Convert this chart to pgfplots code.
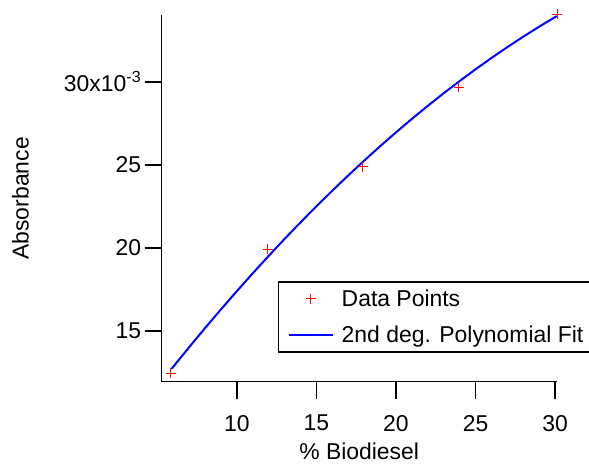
\documentclass[border=0pt]{standalone}
\usepackage{pgfplots}
\pgfplotsset{compat=1.18}
\usepackage{fontspec}
\setmainfont{Liberation Sans}
\definecolor{igred}{RGB}{255,0,0}
\definecolor{igblue}{RGB}{0,0,255}
\newcommand{\igfont}{\fontsize{23}{27}\selectfont}
\begin{document}
\begin{tikzpicture}
\path[use as bounding box] (-161.7bp,-82.3bp) rectangle (427.3bp,381.7bp);
\begin{axis}[
  at={(0,0)}, anchor=south west,
  scale only axis, width=395bp, height=366.7bp,
  xmin=5.28, xmax=30.1, ymin=11.94, ymax=34.03,
  axis x line*=bottom, axis y line*=left,
  axis line style={line width=1.5bp, -},
  x axis line style={-}, y axis line style={-},
  tick align=outside, major tick length=17bp,
  tick style={line width=1.5bp, black},
  xtick={10,15,20,25,30}, xticklabels={10,15,20,25,30},
  ytick={15,20,25,30}, yticklabels={15,20,25,{30x10\textsuperscript{-3}}},
  tick label style={font=\igfont},
  xticklabel style={yshift=-13bp},
  label style={font=\igfont},
  xlabel={\% Biodiesel}, ylabel={Absorbance},
  xlabel style={at={(axis description cs:0.5,-0.189)}, anchor=center},
  ylabel style={at={(axis description cs:-0.3575,0.5)}, anchor=center},
  clip=false,
  legend cell align=left,
  legend image code/.code={\draw[mark repeat=2,mark phase=2,#1] plot coordinates {(0bp,0bp) (22bp,0bp) (44bp,0bp)};},
  legend style={at={(axis description cs:0.2944,0.2746)}, anchor=north west,
    draw=black, line width=1.5bp, font=\igfont,
    inner xsep=9bp, inner ysep=8bp, row sep=18bp,
    nodes={inner sep=0bp}, column sep=8bp},
]
% fit line first so the red marks sit on top of it
\addplot[igblue, line width=2bp, no marks, forget plot]
  coordinates {
  (5.9,12.714) (7,14.013) (8,15.166) (9,16.293) (10,17.393) (11,18.467)
  (12,19.516) (13,20.538) (14,21.534) (15,22.503) (16,23.447) (17,24.364)
  (18,25.255) (19,26.120) (20,26.959) (21,27.771) (22,28.557) (23,29.317)
  (24,30.051) (25,30.759) (26,31.441) (27,32.096) (28,32.725) (29,33.328)
  (30,33.905) (30.1,33.961)};
\addplot[only marks, mark=+, mark size=5bp, igred, mark options={line width=1.2bp}]
  coordinates {(5.85,12.44) (11.95,19.92) (17.92,24.90) (23.95,29.68) (30.15,34.07)};
\addlegendentry{Data Points}
\addlegendimage{igblue, line width=2bp, no marks}
\addlegendentry{2nd deg. Polynomial Fit}
\end{axis}
\end{tikzpicture}
\end{document}
